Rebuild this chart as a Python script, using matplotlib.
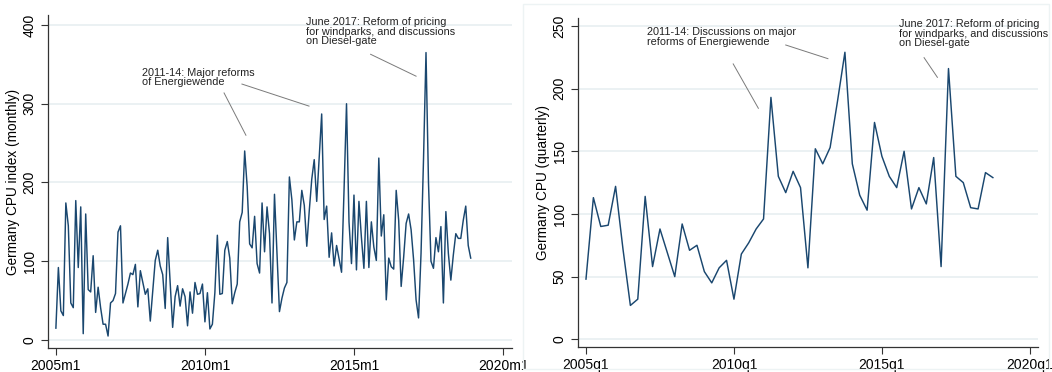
import matplotlib
matplotlib.use('Agg')
import matplotlib.pyplot as plt
import matplotlib.patches as ptc
import numpy as np

plt.rcParams['font.family'] = ['Liberation Sans', 'DejaVu Sans']

# monthly CPU index, 2005m1 .. 2018m12
cpu_monthly = [15, 92, 37, 31, 174, 145, 47, 41, 177, 92, 169, 8,
               160, 64, 61, 107, 35, 67, 41, 20, 20, 5, 47, 50,
               59, 137, 145, 47, 59, 71, 85, 83, 96, 42, 88, 73,
               58, 65, 24, 62, 101, 114, 94, 83, 40, 130, 72, 16,
               55, 69, 43, 65, 55, 18, 61, 34, 73, 58, 59, 71,
               23, 60, 14, 20, 60, 133, 58, 59, 114, 125, 104, 46,
               60, 71, 150, 162, 240, 195, 122, 117, 157, 97, 85, 174,
               112, 169, 135, 47, 185, 110, 36, 53, 66, 73, 207, 178,
               127, 150, 150, 190, 171, 119, 164, 204, 229, 176, 232, 287,
               153, 170, 105, 136, 94, 120, 103, 86, 190, 300, 150, 97,
               184, 89, 176, 130, 91, 176, 92, 150, 118, 101, 231, 132,
               159, 51, 104, 93, 90, 190, 152, 68, 105, 148, 160, 140,
               102, 51, 28, 110, 230, 365, 200, 100, 91, 130, 112, 144,
               47, 163, 110, 76, 108, 135, 129, 129, 152, 170, 120, 104]

# quarterly CPU, 2005q1 .. 2018q4
cpu_quarterly = [48, 113, 90, 91, 122, 72, 27, 32, 114, 58, 88, 69,
                 50, 92, 71, 75, 54, 45, 57, 63, 32, 68, 77, 88,
                 96, 193, 130, 117, 134, 121, 57, 152, 140, 153, 190, 229,
                 140, 115, 103, 173, 146, 130, 121, 150, 104, 121, 108, 145,
                 58, 216, 130, 125, 105, 104, 133, 129]

m_ticks = [0, 60, 120, 180]
m_labels = ['2005m1', '2010m1', '2015m1', '2020m1']
q_ticks = [0, 20, 40, 60]
q_labels = ['2005q1', '2010q1', '2015q1', '2020q1']

navy = '#1a476f'
grid = '#e8eff1'
note_col = '#222222'
lead_col = '#7a7a7a'

fig = plt.figure(figsize=(10.52, 3.72), dpi=100)

# faint frame round the quarterly graph
fig.patches.append(ptc.Rectangle((523 / 1052, 1 - 369 / 372), 526 / 1052, 365 / 372,
                                 transform=fig.transFigure, fill=False,
                                 edgecolor='#edf3f4', linewidth=1.0))

def style_axis(ax, yt, xt, xl, ylab):
    for s in ['top', 'right']:
        ax.spines[s].set_visible(False)
    for s in ['left', 'bottom']:
        ax.spines[s].set_color('#333333')
        ax.spines[s].set_linewidth(0.9)
    ax.set_yticks(yt)
    ax.set_yticklabels([str(v) for v in yt], rotation=90, va='center')
    ax.set_xticks(xt)
    ax.set_xticklabels(xl)
    ax.tick_params(axis='both', length=5, width=0.8, color='#333333',
                   labelsize=10, pad=3)
    for v in yt:
        ax.axhline(v, color=grid, linewidth=1.2, zorder=0)
    ax.set_ylabel(ylab, fontsize=9.8, labelpad=2)

def note(ax, txt, xy, segs):
    ax.text(xy[0], xy[1], txt, fontsize=7.8, color=note_col, va='top', ha='left',
            linespacing=0.95)
    for (x0, y0, x1, y1) in segs:
        ax.plot([x0, x1], [y0, y1], color=lead_col, linewidth=0.7)

# monthly panel
ax1 = fig.add_axes([47.7 / 1052, 1 - 348 / 372, 464 / 1052, 333 / 372])
ax1.plot(np.arange(len(cpu_monthly)), cpu_monthly, color=navy, linewidth=1.05)
ax1.set_xlim(-3.3, 183.5)
ax1.set_ylim(-10.2, 412.7)
style_axis(ax1, [0, 100, 200, 300, 400], m_ticks, m_labels, 'Germany CPU index (monthly)')
note(ax1, '2011-14: Major reforms\nof Energiewende', (34.5, 346),
     [(67.7, 313.7, 76.5, 260), (74.9, 325, 101.9, 297)])
note(ax1, 'June 2017: Reform of pricing\nfor windparks, and discussions\non Diesel-gate',
     (100.6, 410), [(126.7, 362.8, 145, 335)])

# quarterly panel
ax2 = fig.add_axes([577.7 / 1052, 1 - 347.3 / 372, 460.3 / 1052, 329 / 372])
ax2.plot(np.arange(len(cpu_quarterly)), cpu_quarterly, color=navy, linewidth=1.05)
ax2.set_xlim(-1.12, 61.1)
ax2.set_ylim(-6.4, 256.1)
style_axis(ax2, [0, 50, 100, 150, 200, 250], q_ticks, q_labels, 'Germany CPU (quarterly)')
note(ax2, '2011-14: Discussions on major\nreforms of Energiewende', (8.2, 249),
     [(19.9, 219.7, 23.3, 184.3), (27.0, 234.8, 32.7, 223.9)])
note(ax2, 'June 2017: Reform of pricing\nfor windparks, and discussions\non Diesel-gate',
     (42.3, 255.5), [(45.7, 224.7, 47.5, 209)])

fig.savefig('out.png', dpi=100)
